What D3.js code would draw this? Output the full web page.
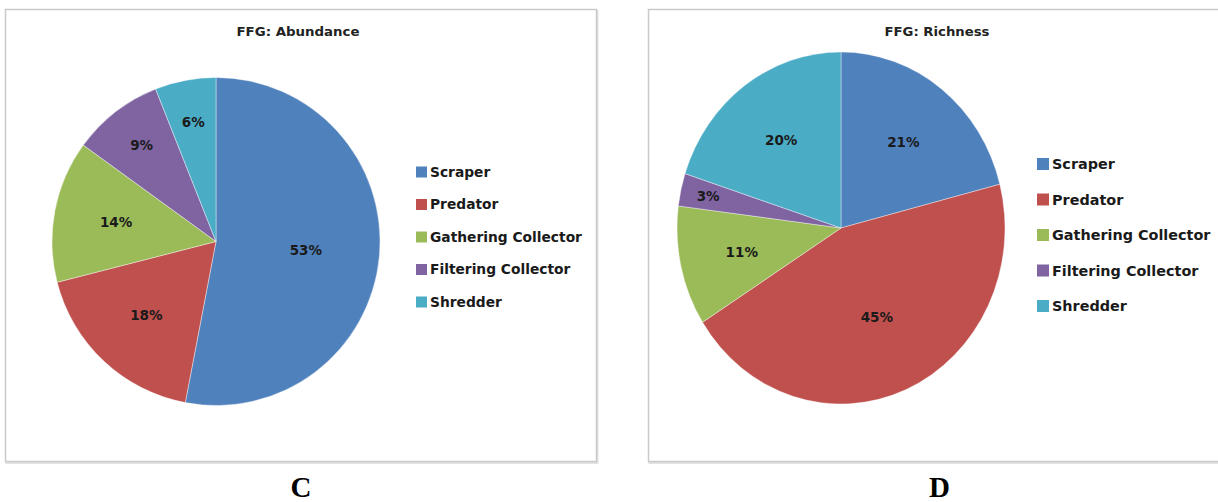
<!DOCTYPE html>
<html>
<head>
<meta charset="utf-8">
<script src="https://cdn.jsdelivr.net/npm/d3@7"></script>
<style>
  body { margin: 0; background: #fff; }
  #chart { width: 1218px; height: 502px; }
  .title { font-family: "DejaVu Sans", sans-serif; font-weight: bold; font-size: 13px; fill: #222; }
  .slice-label { font-family: "DejaVu Sans", sans-serif; font-weight: bold; font-size: 13.5px; fill: #1a1a1a; }
  .legend-text { font-family: "DejaVu Sans", sans-serif; font-weight: bold; fill: #1a1a1a; }
  .panel-letter { font-family: "Liberation Serif", serif; font-weight: bold; font-size: 29px; fill: #000; }
</style>
</head>
<body>
<div id="chart"></div>
<script>

// data
var categories = ["Scraper", "Predator", "Gathering Collector", "Filtering Collector", "Shredder"];
var abundance = [53, 18, 14, 9, 6];
var richness = [21, 45, 11, 3, 20];
var colors = ["#4F81BD", "#C0504D", "#9BBB59", "#8064A2", "#4BACC6"];

var width = 1218;
var height = 502;

var svg = d3.select("#chart")
    .append("svg")
    .attr("width", width)
    .attr("height", height);

var color = d3.scaleOrdinal()
    .domain(categories)
    .range(colors);

var pie = d3.pie()
    .sort(null)
    .value(function(d) { return d.value; });

// one panel = frame + title + pie + legend + letter under it
var panels = [
    { title: "FFG: Abundance", values: abundance, letter: "C",
      frame: [5.5, 9.5, 591, 452], titleX: 298, titleW: 123,
      cx: 216, cy: 241.5, rx: 164, ry: 164,
      legX: 416, legY: 172, legStep: 32.5, box: 11, legFont: 13.8, letterX: 301 },
    { title: "FFG: Richness", values: richness, letter: "D",
      frame: [648.5, 9.5, 575, 452], titleX: 937, titleW: 105,
      cx: 841, cy: 228, rx: 164, ry: 176,
      legX: 1037, legY: 164, legStep: 35.5, box: 12, legFont: 14.4, letterX: 939.5 }
];

panels.forEach(function(p) {

    var g = svg.append("g");

    // frame with a soft lower shadow
    g.append("rect")
        .attr("x", p.frame[0] + 1)
        .attr("y", p.frame[1] + 1.5)
        .attr("width", p.frame[2])
        .attr("height", p.frame[3])
        .attr("fill", "none")
        .attr("stroke", "#e2e2e2")
        .attr("stroke-width", 2);
    g.append("rect")
        .attr("x", p.frame[0])
        .attr("y", p.frame[1])
        .attr("width", p.frame[2])
        .attr("height", p.frame[3])
        .attr("fill", "#fff")
        .attr("stroke", "#c9c9c9")
        .attr("stroke-width", 1.5);

    g.append("text")
        .attr("class", "title")
        .attr("x", p.titleX)
        .attr("y", 36)
        .attr("text-anchor", "middle")
        .attr("textLength", p.titleW)
        .attr("lengthAdjust", "spacingAndGlyphs")
        .text(p.title);

    var data = categories.map(function(c, i) { return { name: c, value: p.values[i] }; });
    var arcs = pie(data);

    var r = p.ry;
    var arc = d3.arc().innerRadius(0).outerRadius(r);

    // pie is a touch oval in the source, so squeeze x
    g.append("g")
        .attr("transform", "translate(" + p.cx + "," + p.cy + ") scale(" + (p.rx / p.ry) + ",1)")
        .selectAll("path")
        .data(arcs)
        .enter()
        .append("path")
            .attr("d", arc)
            .attr("fill", function(d) { return color(d.data.name); })
            .attr("stroke", "#fff")
            .attr("stroke-width", 0.4);

    var total = d3.sum(p.values);

    g.selectAll("text.slice-label")
        .data(arcs)
        .enter()
        .append("text")
            .attr("class", "slice-label")
            .attr("text-anchor", "middle")
            .attr("dy", "0.36em")
            .attr("x", function(d) {
                var a = (d.startAngle + d.endAngle) / 2;
                return p.cx + Math.sin(a) * p.rx * labelFactor(d.value / total);
            })
            .attr("y", function(d) {
                var a = (d.startAngle + d.endAngle) / 2;
                return p.cy - Math.cos(a) * p.ry * labelFactor(d.value / total);
            })
            .text(function(d) { return d3.format(".0%")(d.value / total); });

    var leg = g.selectAll("g.leg")
        .data(categories)
        .enter()
        .append("g")
            .attr("class", "leg")
            .attr("transform", function(d, i) {
                return "translate(" + p.legX + "," + (p.legY + i * p.legStep) + ")";
            });

    leg.append("rect")
        .attr("x", 0)
        .attr("y", -p.box / 2)
        .attr("width", p.box)
        .attr("height", p.box)
        .attr("fill", function(d) { return color(d); });

    leg.append("text")
        .attr("class", "legend-text")
        .attr("x", p.box + 3)
        .attr("dy", "0.36em")
        .style("font-size", p.legFont + "px")
        .text(function(d) { return d; });

    svg.append("text")
        .attr("class", "panel-letter")
        .attr("x", p.letterX)
        .attr("y", 497)
        .attr("text-anchor", "middle")
        .text(p.letter);
});

function labelFactor(share) {
    if (share < 0.05) return 0.83;
    if (share < 0.10) return 0.74;
    if (share > 0.40) return 0.55;
    return 0.62;
}

</script>
</body>
</html>
